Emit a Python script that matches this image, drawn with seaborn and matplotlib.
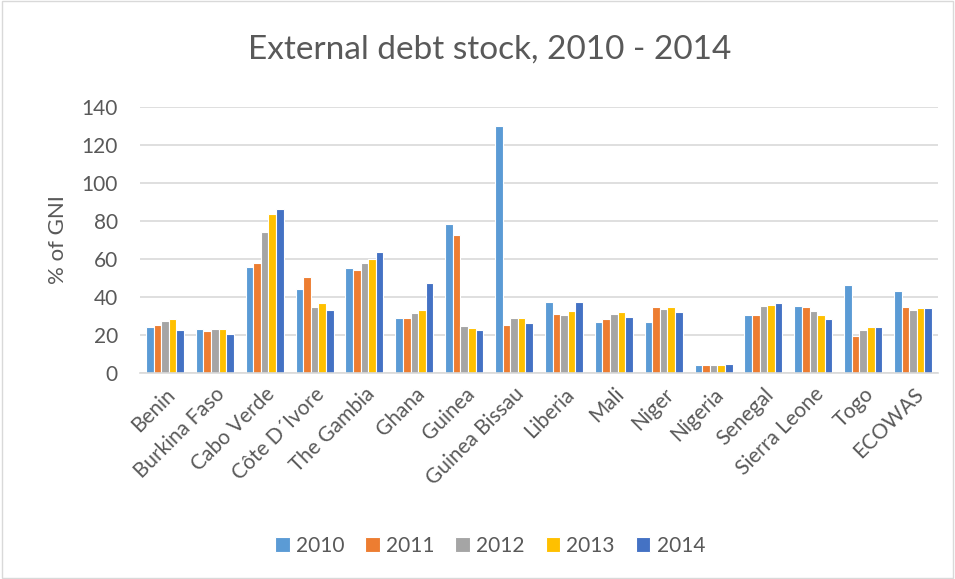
import matplotlib
matplotlib.use("Agg")
import matplotlib.pyplot as plt
import seaborn as sns
import pandas as pd

countries = ["Benin", "Burkina Faso", "Cabo Verde", "Côte D\u00b4Ivore", "The Gambia",
             "Ghana", "Guinea", "Guinea Bissau", "Liberia", "Mali", "Niger",
             "Nigeria", "Senegal", "Sierra Leone", "Togo", "ECOWAS"]
years = ["2010", "2011", "2012", "2013", "2014"]

debt_2010 = [24.3, 23.3, 56.0, 44.3, 55.3, 29.1, 78.2, 130.2, 37.5, 27.1, 27.1, 4.4, 30.5, 35.5, 46.4, 43.2]
debt_2011 = [25.4, 21.9, 57.8, 50.4, 54.4, 29.1, 72.5, 25.4, 31.3, 28.5, 34.8, 4.4, 30.3, 34.5, 19.6, 34.8]
debt_2012 = [27.3, 23.3, 74.0, 35.0, 57.8, 31.5, 24.7, 29.1, 30.6, 31.2, 33.8, 4.2, 35.4, 32.7, 22.6, 32.9]
debt_2013 = [28.5, 23.3, 83.7, 36.9, 60.0, 33.3, 23.8, 29.1, 32.7, 31.9, 34.7, 4.2, 35.7, 30.6, 24.3, 34.3]
debt_2014 = [22.8, 20.3, 86.3, 32.9, 63.9, 47.6, 22.8, 26.3, 37.3, 29.4, 32.2, 4.7, 36.6, 28.2, 24.3, 34.3]

colors = ["#5B9BD5", "#ED7D31", "#A5A5A5", "#FFC000", "#4472C4"]

series = [debt_2010, debt_2011, debt_2012, debt_2013, debt_2014]
df = pd.DataFrame({
    "country": [c for _ in years for c in countries],
    "year": [y for y in years for _ in countries],
    "value": [v for s in series for v in s],
})

sns.set_theme(style="white")
plt.rcParams["font.family"] = ["Lato", "DejaVu Sans"]
text_color = "#595959"

fig = plt.figure(figsize=(9.55, 5.79), dpi=100)
ax = fig.add_axes([140 / 955, 1 - 373 / 579, (938 - 140) / 955, (373 - 107) / 579])

sns.barplot(data=df, x="country", y="value", hue="year", order=countries,
            hue_order=years, palette=colors, saturation=1, width=0.76,
            edgecolor="white", linewidth=0.8, ax=ax, legend=True)

ax.set_ylim(0, 140)
ax.set_yticks(range(0, 141, 20))
ax.set_xlim(-0.5, len(countries) - 0.5)
ax.yaxis.grid(True, color="#D9D9D9", linewidth=1.2)
ax.set_axisbelow(True)
for side in ["top", "right", "left"]:
    ax.spines[side].set_visible(False)
ax.spines["bottom"].set_color("#D9D9D9")
ax.spines["bottom"].set_linewidth(1.2)
ax.tick_params(axis="both", length=0, colors=text_color, labelsize=15)
ax.tick_params(axis="y", pad=16)
ax.tick_params(axis="x", pad=8)
ax.set_xlabel("")
ax.set_ylabel("% of GNI", color=text_color, fontsize=16, labelpad=10)
plt.setp(ax.get_xticklabels(), rotation=45, ha="right", rotation_mode="anchor",
         fontsize=15)

fig.text(490 / 955, 1 - 50 / 579, "External debt stock, 2010 - 2014",
         ha="center", va="center", fontsize=24, color=text_color)

handles, labels = ax.get_legend_handles_labels()
ax.legend_.remove()
fig.legend(handles, labels, loc="center", bbox_to_anchor=(490 / 955, 1 - 546 / 579),
           ncol=5, frameon=False, fontsize=15, labelcolor=text_color,
           handlelength=0.7, handleheight=0.7, handletextpad=0.3, columnspacing=1.0)

# thin frame around the whole chart area
fig.patches.append(plt.Rectangle((0.002, 0.002), 0.996, 0.996, transform=fig.transFigure,
                                 fill=False, edgecolor="#D9D9D9", linewidth=1))

fig.savefig("out.png", dpi=100, facecolor="white")
